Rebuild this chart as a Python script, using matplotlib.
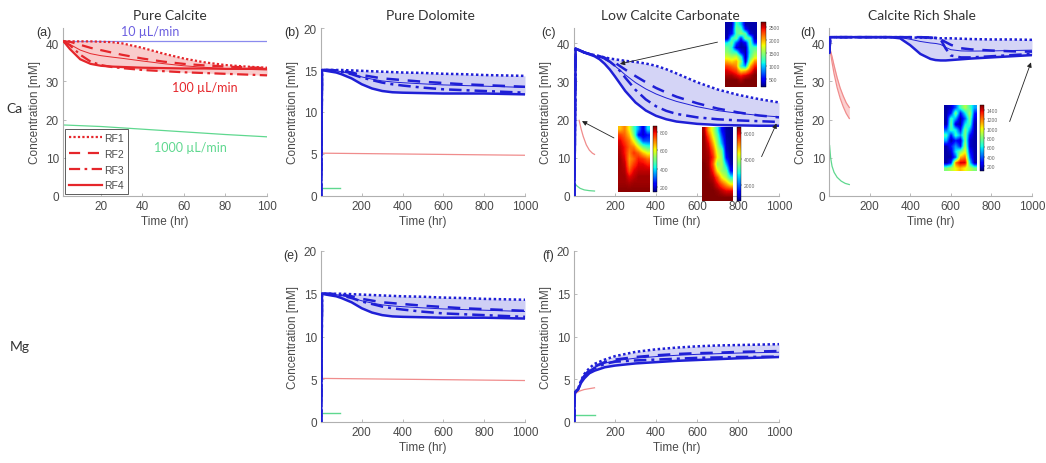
import numpy as np
import matplotlib
matplotlib.use("Agg")
import matplotlib.pyplot as plt

# ---------------- data ----------------
rf_names = ["RF1", "RF2", "RF3", "RF4"]

# (a) Pure Calcite - Ca, 100 uL/min
t_a = [2, 5, 10, 15, 20, 25, 30, 40, 50, 60, 70, 80, 90, 100]
a_rf1 = [40.5, 40.5, 40.5, 40.5, 40.4, 40.3, 40.0, 38.8, 37.3, 36.0, 35.0, 34.3, 33.9, 33.6]
a_rf2 = [40.5, 40.4, 39.6, 38.8, 38.2, 37.6, 37.0, 36.0, 35.2, 34.6, 34.2, 33.9, 33.7, 33.5]
a_rf3 = [40.5, 39.5, 37.0, 35.2, 34.3, 33.8, 33.5, 33.0, 32.7, 32.4, 32.2, 32.0, 31.8, 31.6]
a_rf4 = [40.5, 38.5, 35.8, 34.6, 34.1, 33.9, 33.8, 33.6, 33.5, 33.4, 33.4, 33.3, 33.3, 33.3]
t_a_low = [2, 100]
a_low = [40.6, 40.6]            # 10 uL/min
t_a_high = [2, 20, 40, 60, 80, 100]
a_high = [18.6, 18.2, 17.5, 16.8, 16.1, 15.5]   # 1000 uL/min

# (b) Pure Dolomite - Ca  and (e) Pure Dolomite - Mg
t_d = [1, 5, 25, 50, 75, 100, 150, 200, 250, 300, 350, 400, 500, 600, 700, 800, 900, 1000]
d_rf1 = [0, 15, 15, 15, 15, 15, 14.95, 14.9, 14.85, 14.8, 14.75, 14.7, 14.65, 14.55, 14.5, 14.4, 14.35, 14.3]
d_rf2 = [0, 15, 15, 15, 14.95, 14.9, 14.7, 14.4, 14.2, 14.0, 13.9, 13.8, 13.6, 13.45, 13.3, 13.2, 13.1, 13.0]
d_rf3 = [0, 15, 15, 14.95, 14.9, 14.8, 14.5, 14.1, 13.8, 13.5, 13.3, 13.15, 12.9, 12.7, 12.6, 12.5, 12.4, 12.3]
d_rf4 = [0, 15, 14.9, 14.8, 14.7, 14.5, 14.0, 13.3, 12.8, 12.5, 12.35, 12.3, 12.25, 12.2, 12.2, 12.2, 12.15, 12.1]
t_d_low = [0, 1000]
d_low = [5.1, 4.85]
t_d_high = [0, 95]
d_high = [1.0, 1.0]

# (c) Low Calcite Carbonate - Ca
t_c = [2, 8, 25, 50, 75, 100, 125, 150, 175, 200, 225, 250, 300, 350, 400, 450, 500, 600, 700, 800, 900, 1000]
c_rf1 = [0, 38.6, 38.2, 37.6, 37.2, 36.9, 36.6, 36.3, 36.0, 35.8, 35.6, 35.4, 35.1, 34.7, 34.1, 33.2, 32.1, 29.8, 27.9, 26.5, 25.4, 24.5]
c_rf2 = [0, 38.6, 38.2, 37.6, 37.2, 36.9, 36.6, 36.2, 35.6, 34.9, 34.0, 33.1, 31.4, 29.8, 28.3, 27.1, 26.0, 24.3, 22.9, 21.9, 21.1, 20.6]
c_rf3 = [0, 38.6, 38.2, 37.6, 37.2, 36.9, 36.5, 36.0, 35.2, 34.1, 32.7, 31.0, 27.8, 25.3, 23.5, 22.3, 21.5, 20.6, 20.1, 19.8, 19.6, 19.4]
c_rf4 = [0, 38.6, 38.2, 37.6, 37.1, 36.6, 35.8, 34.6, 33.1, 31.3, 29.4, 27.5, 24.5, 22.4, 21.0, 20.1, 19.5, 18.9, 18.6, 18.5, 18.4, 18.4]
t_c_low = [25, 35, 45, 60, 75, 90, 100]
c_low = [19.8, 17.5, 15.6, 13.4, 12.0, 11.2, 10.9]
t_c_high = [5, 15, 30, 50, 75, 100]
c_high = [3.2, 2.6, 2.0, 1.6, 1.4, 1.3]

# (d) Calcite Rich Shale - Ca
t_s = [2, 6, 50, 100, 200, 300, 350, 400, 450, 500, 525, 550, 575, 600, 650, 700, 800, 900, 1000]
s_rf1 = [37.5, 41.6, 41.6, 41.6, 41.6, 41.6, 41.6, 41.5, 41.5, 41.4, 41.4, 41.3, 41.3, 41.3, 41.2, 41.1, 41.0, 41.0, 40.9]
s_rf2 = [37.5, 41.6, 41.6, 41.6, 41.6, 41.6, 41.6, 41.6, 41.6, 41.5, 41.4, 41.0, 40.3, 39.6, 38.7, 38.4, 38.1, 37.9, 37.8]
s_rf3 = [37.5, 41.6, 41.6, 41.6, 41.6, 41.6, 41.6, 41.6, 41.6, 41.5, 41.4, 41.0, 38.6, 36.8, 36.3, 36.3, 36.6, 36.9, 37.2]
s_rf4 = [37.5, 41.6, 41.6, 41.6, 41.6, 41.6, 41.3, 39.5, 37.2, 35.9, 35.6, 35.5, 35.5, 35.6, 35.8, 36.0, 36.3, 36.6, 36.9]
t_s_low = [5, 15, 25, 40, 55, 70, 85, 100]
s_low_hi = [38.5, 36.5, 34.2, 31.0, 28.3, 26.2, 24.4, 23.2]
s_low_lo = [38.5, 35.0, 32.0, 28.4, 25.6, 23.4, 21.6, 20.3]
t_s_high = [3, 8, 15, 25, 40, 60, 80, 100]
s_high = [13.2, 10.0, 7.8, 6.2, 4.9, 3.9, 3.3, 3.0]

# (f) Low Calcite Carbonate - Mg
t_f = [1, 4, 10, 20, 35, 50, 75, 100, 150, 200, 300, 400, 500, 600, 700, 800, 900, 1000]
f_rf1 = [0, 3.4, 3.6, 3.9, 4.9, 5.6, 6.3, 6.8, 7.3, 7.7, 8.2, 8.5, 8.7, 8.85, 8.95, 9.0, 9.05, 9.1]
f_rf2 = [0, 3.4, 3.6, 3.9, 4.8, 5.4, 6.1, 6.5, 7.0, 7.3, 7.6, 7.8, 7.95, 8.05, 8.1, 8.2, 8.25, 8.3]
f_rf3 = [0, 3.4, 3.6, 3.8, 4.7, 5.3, 5.9, 6.3, 6.8, 7.05, 7.2, 7.3, 7.4, 7.5, 7.55, 7.6, 7.62, 7.65]
f_rf4 = [0, 3.4, 3.6, 3.8, 4.6, 5.1, 5.7, 6.0, 6.4, 6.6, 6.85, 7.0, 7.15, 7.25, 7.35, 7.45, 7.52, 7.6]
t_f_low = [5, 25, 50, 75, 100]
f_low = [3.3, 3.6, 3.8, 3.9, 4.0]
t_f_high = [0, 100]
f_high = [0.82, 0.82]

# concentration maps (rows top -> bottom)
map_c1 = [[300, 300, 1300, 1000, 300, 300, 300],
          [300, 400, 1400, 1300, 500, 300, 300],
          [300, 500, 1300, 1500, 1300, 400, 300],
          [300, 1200, 1400, 600, 1400, 1300, 300],
          [1100, 1400, 700, 300, 500, 1400, 600],
          [1400, 1200, 400, 300, 300, 1300, 1300],
          [1500, 1300, 1200, 500, 300, 1200, 1500],
          [1700, 1600, 1700, 1200, 300, 1300, 1700],
          [2000, 1900, 2000, 1500, 400, 1600, 2100],
          [2300, 2200, 2100, 1200, 900, 2000, 2400],
          [2500, 2400, 2300, 1900, 2000, 2300, 2600],
          [2600, 2600, 2500, 2400, 2500, 2600, 2700],
          [2700, 2700, 2700, 2600, 2700, 2700, 2700],
          [2700, 2700, 2700, 2700, 2700, 2700, 2700]]
map_c2 = [[650, 700, 600, 450, 350, 200, 400],
          [750, 720, 650, 500, 250, 200, 250],
          [800, 750, 700, 600, 450, 300, 300],
          [820, 780, 720, 700, 600, 500, 450],
          [830, 780, 700, 760, 720, 650, 600],
          [840, 800, 680, 720, 780, 760, 720],
          [840, 820, 700, 760, 800, 800, 780],
          [840, 830, 740, 800, 820, 820, 820],
          [840, 840, 800, 820, 840, 840, 840],
          [840, 840, 830, 840, 840, 840, 840],
          [850, 850, 850, 850, 850, 850, 850]]
map_c3 = [[6300, 5000, 4200, 3000, 1500, 1000, 900],
          [6400, 5600, 4500, 3500, 2000, 1000, 900],
          [6400, 6000, 5000, 3800, 2500, 1100, 900],
          [6400, 6200, 5500, 4200, 3500, 1200, 900],
          [6400, 6300, 5800, 4500, 3800, 1500, 900],
          [6500, 6300, 5500, 3800, 4000, 2500, 1000],
          [6500, 6400, 5800, 4500, 3800, 3500, 1500],
          [6500, 6400, 6200, 5500, 4500, 4000, 3000],
          [6500, 6500, 6400, 6000, 5500, 5000, 4500],
          [6500, 6500, 6500, 6400, 6200, 6000, 6000],
          [6500, 6500, 6500, 6500, 6500, 6500, 6500]]
map_s = [[150, 200, 400, 700, 900, 700, 500],
         [150, 300, 800, 300, 600, 900, 300],
         [150, 700, 500, 150, 400, 800, 200],
         [150, 800, 200, 150, 600, 700, 150],
         [400, 700, 600, 300, 800, 500, 150],
         [700, 300, 700, 500, 800, 300, 150],
         [500, 150, 300, 200, 800, 200, 150],
         [150, 300, 500, 300, 900, 200, 150],
         [150, 200, 600, 800, 1000, 300, 150],
         [150, 150, 400, 1100, 1200, 400, 150],
         [150, 300, 1200, 1400, 1400, 600, 150],
         [800, 900, 1000, 1100, 1000, 900, 800]]

# ---------------- style ----------------
plt.rcParams["font.family"] = ["Liberation Sans", "DejaVu Sans"]
TITLE_FONT = ["Lato", "DejaVu Sans"]
TXT = "#4a4a4a"
BLUE = "#1f1fd6"
RED = "#e5262b"
LRED = "#f08c8c"
LGREEN = "#5fd88f"
styles = [dict(ls=(0, (1, 1))), dict(ls=(0, (5, 3.5))), dict(ls=(0, (5, 2, 1.2, 2))), dict(ls="-")]

W, H = 1046, 464
fig = plt.figure(figsize=(W / 100, H / 100), dpi=100)


def px_axes(x0, y0, x1, y1):
    return fig.add_axes([x0 / W, 1 - y1 / H, (x1 - x0) / W, (y1 - y0) / H])


def style_axes(ax, xlim, ylim, xticks, yticks):
    ax.set_xlim(*xlim)
    ax.set_ylim(*ylim)
    ax.set_xticks(xticks)
    ax.set_yticks(yticks)
    for s in ("top", "right"):
        ax.spines[s].set_visible(False)
    for s in ("left", "bottom"):
        ax.spines[s].set_color("#b0b0b0")
        ax.spines[s].set_linewidth(0.8)
    ax.tick_params(direction="in", length=2.5, width=0.6, color="#b0b0b0",
                   labelsize=8.5, labelcolor=TXT, pad=3)
    ax.set_xlabel("Time (hr)", fontsize=8.5, color=TXT, labelpad=2)
    ax.set_ylabel("Concentration [mM]", fontsize=8.5, color=TXT, labelpad=3)
    ax.patch.set_alpha(0)


def rf_band(ax, t, curves, color, fill, lw=1.8, mean_lw=0.7):
    arr = np.array(curves, dtype=float)
    ax.fill_between(t, arr.min(axis=0), arr.max(axis=0), color=fill, lw=0, zorder=1)
    ax.plot(t, arr.mean(axis=0), color=color, lw=mean_lw, zorder=2)
    lines = []
    for c, st in zip(arr, styles):
        ln, = ax.plot(t, c, color=color, lw=lw, zorder=3, **st)
        lines.append(ln)
    return lines


# ---------------- (a) Pure Calcite ----------------
ax_a = px_axes(63, 29, 267, 197)
style_axes(ax_a, (1.7, 100), (0, 44), [20, 40, 60, 80, 100], [0, 10, 20, 30, 40])
ax_a.plot(t_a_low, a_low, color="#8a8aee", lw=0.9, zorder=2)
ax_a.plot(t_a_high, a_high, color=LGREEN, lw=0.9, zorder=2)
lines_a = rf_band(ax_a, t_a, [a_rf1, a_rf2, a_rf3, a_rf4], RED, "#f9cccc", lw=1.6)
ax_a.text(43.5, 41.6, "10 µL/min", color="#6b5ee0", fontsize=9, family=TITLE_FONT,
          ha="center", va="bottom")
ax_a.text(70, 28.5, "100 µL/min", color=RED, fontsize=9, family=TITLE_FONT,
          ha="center", va="center")
ax_a.text(63, 12.8, "1000 µL/min", color=LGREEN, fontsize=9, family=TITLE_FONT,
          ha="center", va="center")
leg = ax_a.legend(lines_a, rf_names, loc="lower left", fontsize=7.5, frameon=True,
                  fancybox=False, borderaxespad=0.15, handlelength=3.2,
                  handletextpad=0.2, labelspacing=0.55, borderpad=0.4)
leg.get_frame().set_edgecolor("#333333")
leg.get_frame().set_linewidth(0.7)
for txt in leg.get_texts():
    txt.set_color(TXT)

# ---------------- (b) Pure Dolomite Ca ----------------
ax_b = px_axes(321, 29, 525, 197)
style_axes(ax_b, (0, 1000), (0, 20), [200, 400, 600, 800, 1000], [0, 5, 10, 15, 20])
ax_b.plot(t_d_low, d_low, color=LRED, lw=0.9, zorder=2)
ax_b.plot(t_d_high, d_high, color=LGREEN, lw=1.0, zorder=2)
rf_band(ax_b, t_d, [d_rf1, d_rf2, d_rf3, d_rf4], BLUE, "#cfcff5")

# ---------------- (c) Low Calcite Carbonate Ca ----------------
ax_c = px_axes(574, 29, 779, 197)
style_axes(ax_c, (0, 1000), (0, 44), [200, 400, 600, 800, 1000], [0, 10, 20, 30, 40])
ax_c.plot(t_c_low, c_low, color=LRED, lw=0.9, zorder=2)
ax_c.plot(t_c_high, c_high, color=LGREEN, lw=0.9, zorder=2)
rf_band(ax_c, t_c, [c_rf1, c_rf2, c_rf3, c_rf4], BLUE, "#d4d4f6")

# ---------------- (d) Calcite Rich Shale Ca ----------------
ax_d = px_axes(829, 29, 1032, 197)
style_axes(ax_d, (0, 1000), (0, 44), [200, 400, 600, 800, 1000], [0, 10, 20, 30, 40])
ax_d.fill_between(t_s_low, s_low_lo, s_low_hi, color="#fbd0d0", lw=0, zorder=1)
ax_d.plot(t_s_low, s_low_hi, color=LRED, lw=0.9, zorder=2)
ax_d.plot(t_s_low, s_low_lo, color=LRED, lw=0.9, zorder=2)
ax_d.plot(t_s_high, s_high, color=LGREEN, lw=0.9, zorder=2)
rf_band(ax_d, t_s, [s_rf1, s_rf2, s_rf3, s_rf4], BLUE, "#d4d4f6")

# ---------------- (e) Pure Dolomite Mg ----------------
ax_e = px_axes(321, 252, 525, 423)
style_axes(ax_e, (0, 1000), (0, 20), [200, 400, 600, 800, 1000], [0, 5, 10, 15, 20])
ax_e.plot(t_d_low, d_low, color=LRED, lw=0.9, zorder=2)
ax_e.plot(t_d_high, d_high, color=LGREEN, lw=1.0, zorder=2)
rf_band(ax_e, t_d, [d_rf1, d_rf2, d_rf3, d_rf4], BLUE, "#cfcff5")

# ---------------- (f) Low Calcite Carbonate Mg ----------------
ax_f = px_axes(574, 252, 779, 423)
style_axes(ax_f, (0, 1000), (0, 20), [200, 400, 600, 800, 1000], [0, 5, 10, 15, 20])
ax_f.plot(t_f_low, f_low, color=LRED, lw=0.9, zorder=2)
ax_f.plot(t_f_high, f_high, color=LGREEN, lw=1.0, zorder=2)
rf_band(ax_f, t_f, [f_rf1, f_rf2, f_rf3, f_rf4], BLUE, "#d4d4f6")

# ---------------- titles and panel labels ----------------
for x, title in [(170, "Pure Calcite"), (430, "Pure Dolomite"),
                 (670, "Low Calcite Carbonate"), (922, "Calcite Rich Shale")]:
    fig.text(x / W, 1 - 16 / H, title, ha="center", va="center", fontsize=10,
             color="#333333", family=TITLE_FONT)
for x, y, lab in [(44, 33, "(a)"), (292, 33, "(b)"), (548, 33, "(c)"),
                  (808, 33, "(d)"), (291, 256, "(e)"), (548, 256, "(f)")]:
    fig.text(x / W, 1 - y / H, lab, ha="center", va="center", fontsize=9, color="#333333")
fig.text(14 / W, 1 - 109 / H, "Ca", ha="center", va="center", fontsize=10,
         color="#333333", family=TITLE_FONT)
fig.text(20 / W, 1 - 347 / H, "Mg", ha="center", va="center", fontsize=10,
         color="#333333", family=TITLE_FONT)


# ---------------- concentration map insets ----------------
def inset_map(box, cbox, data, vmin, vmax, ticks):
    ax = px_axes(*box)
    im = ax.imshow(np.array(data, dtype=float), cmap="jet", vmin=vmin, vmax=vmax,
                   aspect="auto", interpolation="bilinear")
    ax.set_xticks([])
    ax.set_yticks([])
    for s in ax.spines.values():
        s.set_visible(False)
    cax = px_axes(*cbox)
    cb = fig.colorbar(im, cax=cax, ticks=ticks)
    cb.outline.set_linewidth(0.3)
    cb.ax.tick_params(labelsize=3.6, length=1, width=0.3, pad=1, labelcolor="#666666")


inset_map((725, 23, 757, 88), (761, 23, 766, 88), map_c1, 200, 2700,
          [500, 1000, 1500, 2000, 2500])
inset_map((618, 127, 650, 193), (653, 127, 657, 193), map_c2, 150, 860,
          [200, 400, 600, 800])
inset_map((702, 128, 733, 202), (737, 128, 741, 202), map_c3, 800, 6500,
          [2000, 4000, 6000])
inset_map((944, 106, 977, 172), (980, 106, 984, 172), map_s, 100, 1500,
          [200, 400, 600, 800, 1000, 1200, 1400])

# pointers from the maps to the breakthrough curves
arrow = dict(arrowstyle="-|>", color="#222222", lw=0.6, mutation_scale=7,
             shrinkA=0, shrinkB=0)
for ax, tip, tail in [(ax_c, (224, 34.6), (700, 40.3)),
                      (ax_c, (39, 19.6), (195, 15.2)),
                      (ax_c, (988, 19.0), (915, 10.3)),
                      (ax_d, (995, 35.0), (890, 19.5))]:
    ax.annotate("", xy=tip, xytext=tail, xycoords="data", textcoords="data",
                arrowprops=arrow, annotation_clip=False, zorder=6)

fig.savefig("out.png", dpi=100, facecolor="white")
